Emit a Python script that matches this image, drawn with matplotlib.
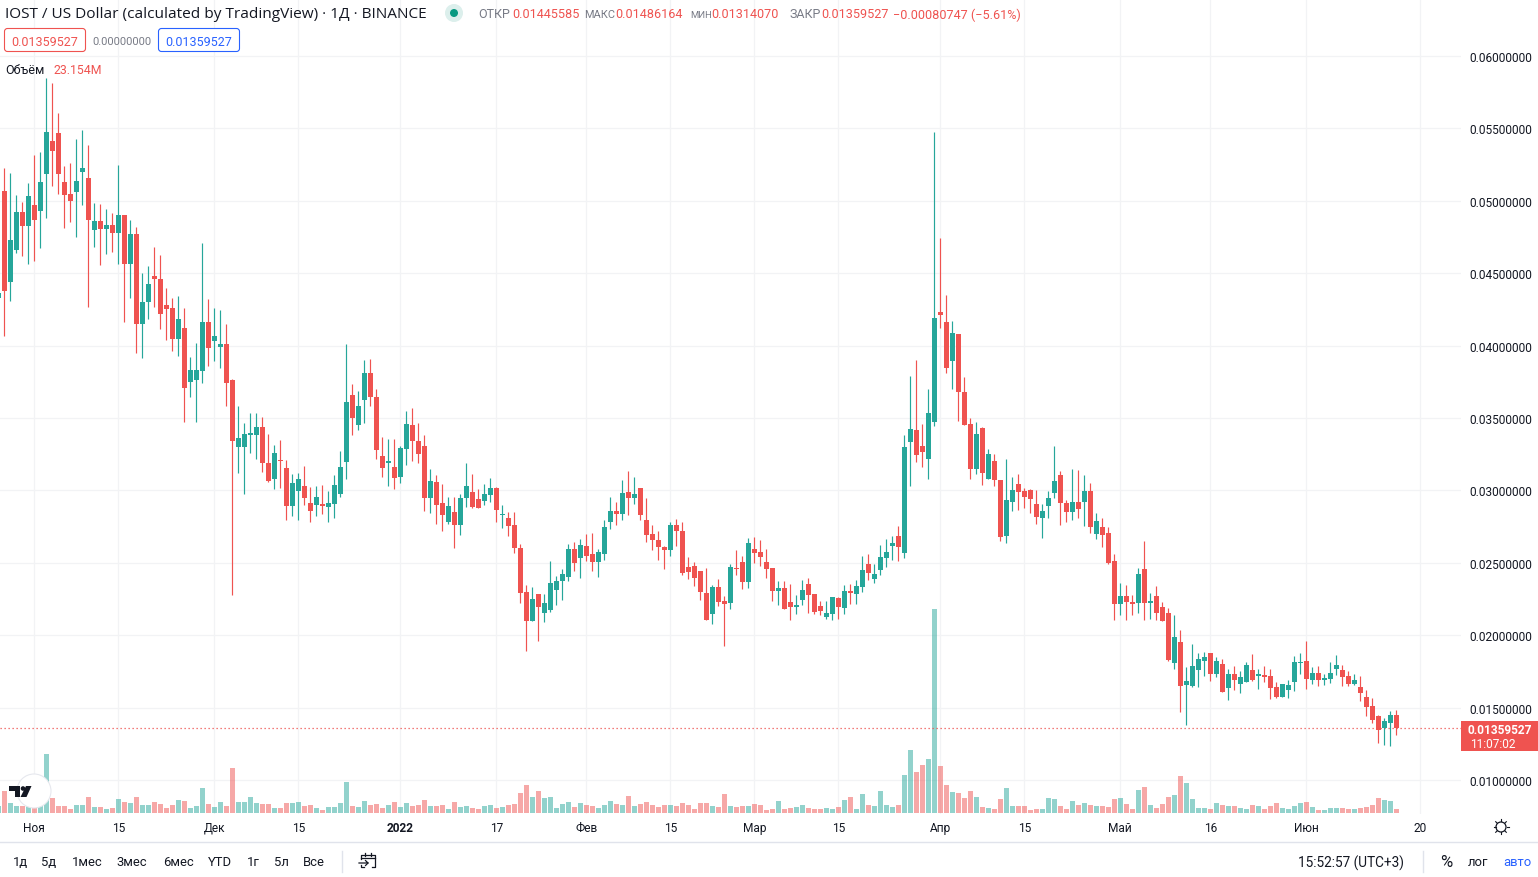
import numpy as np
import matplotlib
matplotlib.use("Agg")
import matplotlib.pyplot as plt
from matplotlib.patches import Circle, FancyBboxPatch, Polygon, Rectangle

plt.rcParams['font.family'] = ['Roboto', 'DejaVu Sans']

# Prices are in thousandths of a dollar, one row per ten candles.
# The first value of each list is the candle cut off by the left edge.
opens = [43.3,
    50.66, 44.39, 46.58, 49.21, 48.24, 49.69, 49.28, 51.84, 54.12, 54.68,
    51.29, 50.46, 50.59, 51.98, 51.56, 47.96, 48.59, 48.03, 48.31, 47.76,
    49.00, 45.61, 47.69, 41.46, 42.98, 44.78, 44.57, 42.77, 42.57, 40.49,
    41.25, 37.51, 37.65, 38.27, 41.60, 40.35, 39.93, 40.14, 37.62, 33.01,
    33.01, 33.83, 33.83, 34.38, 31.91, 30.81, 32.12, 31.57, 28.95, 29.98,
    30.33, 29.16, 29.02, 29.09, 28.88, 29.09, 29.78, 31.98, 36.58, 34.52,
    36.24, 38.10, 36.45, 32.39, 31.91, 31.63, 30.95, 32.87, 34.52, 33.42,
    33.08, 29.50, 30.60, 29.16, 27.85, 28.54, 27.58, 29.50, 29.92, 29.43,
    29.30, 29.71, 30.19, 28.33, 28.06, 27.58, 26.02, 22.99, 20.99, 22.85,
    21.54, 21.75, 23.13, 23.75, 24.02, 25.95, 25.33, 26.16, 25.61, 25.06,
    25.61, 27.82, 28.57, 28.37, 29.89, 29.47, 30.16, 27.95, 26.99, 26.57,
    26.09, 25.88, 27.61, 27.20, 24.71, 24.78, 24.44, 22.92, 21.47, 23.33,
    22.37, 22.23, 24.64, 25.06, 23.68, 25.95, 25.75, 25.06, 24.64, 23.06,
    23.26, 22.30, 21.95, 22.44, 23.54, 22.85, 22.02, 21.26, 21.47, 22.57,
    21.88, 23.06, 22.85, 23.33, 24.92, 23.88, 24.51, 25.33, 26.16, 26.85,
    25.71, 33.37, 34.19, 33.09, 32.19, 34.75, 42.33, 41.64, 38.95, 40.82,
    36.81, 34.61, 31.50, 34.33, 30.81, 32.06, 30.75, 26.88, 29.23, 30.47,
    29.99, 30.06, 29.09, 28.12, 28.95, 29.85, 31.09, 29.16, 28.54, 29.23,
    29.23, 29.99, 27.02, 27.50, 27.09, 25.14, 22.18, 22.73, 22.32, 22.25,
    24.59, 22.25, 22.73, 21.97, 21.56, 18.05, 19.56, 16.53, 16.47, 17.57,
    18.25, 18.74, 17.29, 17.98, 16.33, 17.29, 16.60, 16.74, 17.57, 17.15,
    17.22, 17.15, 16.40, 15.71, 16.19, 16.74, 18.05, 18.19, 16.88, 17.36,
    16.88, 16.95, 17.64, 17.57, 17.15, 16.60, 16.40, 15.71, 15.09, 14.40,
    13.57, 13.92, 14.45585]
closes = [43.6,
    43.76, 47.27, 49.21, 48.24, 50.32, 48.66, 51.29, 54.75, 53.43, 51.84,
    50.39, 49.97, 51.35, 52.25, 48.66, 48.59, 48.03, 48.31, 47.76, 49.00,
    45.61, 47.69, 41.46, 42.98, 44.23, 44.57, 42.15, 42.50, 40.49, 41.87,
    37.10, 38.34, 38.34, 41.60, 39.80, 40.63, 40.14, 37.44, 33.44, 33.63,
    33.90, 33.97, 34.38, 31.91, 30.67, 32.60, 32.05, 28.95, 30.53, 30.81,
    29.50, 28.61, 29.57, 28.95, 29.16, 30.40, 31.63, 36.10, 35.00, 35.83,
    38.10, 36.45, 32.80, 31.57, 32.05, 30.88, 32.94, 34.59, 33.42, 32.53,
    29.50, 30.67, 29.02, 28.33, 28.95, 27.58, 29.50, 30.33, 28.88, 28.81,
    29.78, 30.19, 28.68, 28.40, 27.51, 26.00, 22.92, 20.99, 22.51, 21.95,
    22.23, 23.61, 23.75, 24.23, 25.95, 24.99, 26.23, 25.47, 25.06, 25.75,
    27.47, 28.57, 28.37, 29.82, 29.47, 29.75, 28.30, 26.92, 26.57, 26.09,
    25.88, 27.61, 27.20, 24.30, 24.37, 23.95, 22.99, 21.06, 23.33, 22.30,
    22.16, 24.71, 24.57, 23.68, 26.37, 25.68, 25.40, 24.57, 23.06, 23.26,
    21.82, 21.95, 22.09, 23.13, 22.78, 21.61, 21.68, 21.54, 22.64, 21.95,
    23.06, 22.92, 23.40, 24.51, 24.30, 24.23, 25.40, 25.75, 26.37, 26.09,
    33.02, 34.26, 32.47, 32.68, 35.37, 41.92, 42.13, 38.47, 40.88, 36.81,
    34.54, 31.50, 33.92, 31.23, 32.54, 30.75, 26.81, 29.37, 30.06, 29.92,
    29.57, 29.44, 28.19, 28.61, 29.50, 30.68, 29.16, 28.54, 29.23, 28.75,
    29.99, 27.44, 27.92, 26.95, 25.02, 22.18, 22.73, 22.32, 22.18, 24.24,
    22.25, 22.38, 21.56, 21.01, 18.32, 19.91, 16.47, 16.81, 17.84, 18.39,
    18.46, 17.29, 18.25, 16.05, 17.29, 16.88, 17.08, 17.91, 16.88, 17.29,
    17.08, 16.33, 15.71, 16.60, 16.53, 18.12, 18.12, 16.95, 17.36, 16.88,
    17.02, 17.36, 17.91, 17.08, 16.60, 16.88, 15.98, 15.02, 14.13, 13.44,
    14.06, 14.47, 13.59527]
highs = [43.8,
    52.25, 51.91, 50.39, 49.90, 51.22, 53.15, 53.36, 58.46, 58.14, 56.06,
    52.39, 52.60, 54.26, 54.88, 53.85, 49.83, 49.76, 49.42, 49.14, 52.46,
    49.00, 48.66, 48.17, 44.99, 45.47, 46.79, 46.23, 43.95, 43.26, 43.40,
    42.63, 39.24, 40.21, 47.06, 43.19, 42.57, 42.43, 41.46, 37.66, 35.83,
    34.66, 35.35, 35.35, 35.07, 33.90, 33.15, 33.49, 32.12, 31.15, 31.22,
    31.70, 30.26, 30.33, 30.40, 29.98, 31.08, 32.73, 40.09, 37.34, 36.86,
    38.99, 39.06, 37.00, 33.70, 33.56, 33.56, 33.08, 35.48, 35.69, 34.66,
    33.83, 31.50, 31.08, 30.47, 29.57, 29.57, 29.78, 31.91, 31.15, 30.12,
    30.47, 30.88, 30.26, 29.02, 28.54, 28.54, 26.30, 23.47, 23.33, 22.85,
    22.85, 25.13, 24.09, 24.57, 26.30, 26.44, 26.64, 26.99, 27.06, 25.95,
    27.95, 29.54, 29.20, 30.71, 31.33, 30.92, 30.16, 29.47, 27.61, 27.20,
    26.16, 27.82, 28.02, 27.82, 25.40, 25.06, 24.44, 24.64, 23.47, 23.88,
    22.71, 24.92, 25.88, 25.47, 26.71, 26.78, 26.57, 25.95, 24.64, 23.75,
    23.75, 23.54, 22.78, 23.82, 23.95, 22.85, 22.37, 22.37, 22.64, 22.64,
    23.47, 23.54, 23.82, 25.47, 25.61, 24.92, 26.23, 26.64, 26.85, 27.54,
    33.85, 37.92, 39.02, 34.61, 37.02, 54.75, 47.44, 43.50, 41.71, 40.82,
    37.85, 35.02, 34.75, 34.40, 32.88, 32.54, 30.75, 32.19, 30.95, 31.16,
    30.19, 30.12, 30.06, 29.09, 29.99, 33.09, 31.37, 29.37, 31.50, 31.44,
    31.09, 30.54, 28.47, 28.06, 27.50, 25.62, 23.62, 23.49, 22.80, 24.65,
    26.51, 22.93, 23.42, 22.32, 21.90, 21.42, 20.39, 17.77, 19.36, 18.74,
    18.81, 18.74, 18.46, 18.39, 17.64, 17.84, 17.50, 18.12, 18.67, 17.64,
    17.84, 17.64, 16.74, 16.60, 16.88, 18.53, 18.74, 19.63, 17.77, 17.84,
    17.29, 18.12, 18.60, 17.91, 17.50, 17.29, 17.15, 16.19, 15.64, 14.47,
    14.26, 14.75, 14.86164]
lows = [43.0,
    40.65, 43.07, 46.37, 46.19, 45.61, 45.82, 46.72, 48.79, 51.01, 50.46,
    48.10, 48.52, 47.48, 49.69, 42.70, 46.79, 45.54, 46.30, 46.44, 45.61,
    41.60, 43.26, 39.52, 39.17, 41.87, 42.70, 41.18, 40.42, 39.66, 39.31,
    34.74, 36.47, 34.74, 37.44, 38.62, 38.97, 38.48, 35.85, 22.76, 31.22,
    29.78, 32.60, 32.19, 31.29, 30.60, 30.12, 30.19, 27.99, 28.26, 27.99,
    29.02, 27.85, 28.26, 28.40, 27.85, 28.06, 29.57, 30.81, 33.83, 34.18,
    34.66, 35.83, 32.19, 30.95, 30.33, 30.12, 30.53, 31.77, 32.05, 31.91,
    28.61, 28.47, 27.71, 27.23, 27.71, 26.00, 26.89, 28.88, 28.81, 28.81,
    29.02, 29.23, 27.85, 27.37, 26.82, 25.65, 22.23, 18.92, 20.99, 19.61,
    20.92, 21.61, 22.09, 22.44, 23.75, 24.44, 23.95, 25.13, 24.44, 24.02,
    25.20, 27.33, 27.61, 27.95, 28.30, 29.06, 27.95, 26.44, 25.88, 25.20,
    24.57, 25.47, 26.16, 24.16, 23.88, 23.40, 22.44, 21.06, 20.78, 22.02,
    19.26, 21.82, 24.16, 23.20, 23.26, 24.99, 24.78, 23.95, 22.37, 22.09,
    21.82, 21.06, 21.47, 22.09, 21.54, 21.47, 21.40, 21.13, 21.06, 21.13,
    21.47, 22.16, 22.16, 22.99, 23.82, 23.61, 24.16, 24.71, 25.20, 25.13,
    25.30, 30.33, 31.99, 31.64, 30.81, 34.47, 41.23, 38.13, 37.02, 34.81,
    34.54, 30.81, 31.16, 30.40, 30.81, 30.33, 26.54, 26.40, 28.61, 28.68,
    28.81, 28.47, 27.71, 26.68, 28.06, 29.50, 27.64, 27.85, 27.99, 28.12,
    27.57, 27.09, 26.61, 26.12, 24.95, 21.08, 21.42, 21.08, 21.42, 21.56,
    21.08, 21.15, 21.08, 21.01, 18.25, 17.64, 14.68, 13.78, 16.40, 16.40,
    17.15, 16.81, 17.08, 16.05, 15.50, 16.19, 15.98, 16.74, 16.81, 16.26,
    16.74, 15.57, 15.64, 15.71, 15.64, 16.12, 17.29, 16.26, 16.60, 16.47,
    16.53, 16.67, 17.22, 16.47, 16.47, 16.53, 15.43, 14.40, 13.92, 12.54,
    12.40, 12.34, 13.14070]
# volume in millions
volumes = [44,
    139, 63, 44, 44, 69, 69, 69, 372, 95, 44,
    44, 25, 50, 50, 101, 38, 38, 25, 32, 88,
    69, 63, 101, 50, 50, 69, 57, 32, 50, 82,
    76, 32, 44, 158, 57, 38, 69, 44, 284, 69,
    69, 101, 63, 57, 57, 32, 32, 63, 63, 69,
    44, 50, 32, 19, 38, 38, 63, 195, 44, 38,
    76, 50, 57, 32, 50, 69, 38, 63, 44, 50,
    82, 44, 44, 50, 25, 69, 38, 44, 32, 25,
    44, 50, 32, 38, 50, 57, 126, 176, 101, 139,
    95, 101, 32, 57, 69, 38, 63, 50, 44, 32,
    50, 76, 57, 50, 107, 44, 57, 69, 50, 38,
    50, 50, 44, 63, 50, 25, 63, 63, 44, 38,
    120, 44, 38, 44, 44, 57, 50, 19, 25, 76,
    25, 32, 38, 50, 32, 25, 25, 32, 25, 38,
    82, 101, 25, 120, 50, 44, 139, 50, 38, 50,
    239, 397, 258, 302, 340, 1285, 296, 176, 132, 126,
    95, 139, 101, 38, 32, 25, 88, 160, 43, 43,
    43, 17, 24, 24, 95, 89, 43, 24, 76, 50,
    63, 50, 43, 43, 37, 89, 95, 56, 24, 147,
    166, 50, 30, 56, 102, 114, 231, 186, 89, 30,
    30, 24, 63, 50, 43, 43, 30, 24, 50, 43,
    24, 43, 63, 30, 24, 43, 63, 69, 37, 17,
    17, 30, 30, 30, 24, 24, 30, 37, 50, 95,
    82, 76, 23.154]

price_ticks = [0.06, 0.055, 0.05, 0.045, 0.04, 0.035, 0.03, 0.025, 0.02, 0.015, 0.01]
# candle index of each date label, counted from the first whole candle
date_idx = [5, 19, 35, 49, 66, 82, 97, 111, 125, 139, 156, 170, 186, 201, 217, 236]
date_labels = ['Ноя', '15', 'Дек', '15', '2022', '17', 'Фев', '15', 'Мар', '15',
               'Апр', '15', 'Май', '16', 'Июн', '20']
last_close = 0.01359527
range_buttons = [('1д', 20), ('5д', 49), ('1мес', 87), ('3мес', 132), ('6мес', 178),
                 ('YTD', 220), ('1г', 253), ('5л', 281), ('Все', 314)]

GREEN = '#26a69a'
RED = '#ef5350'
TEXT = '#131722'
GREY = '#787b86'
BLUE = '#2962ff'
GRID = '#f2f3f5'
W, H = 1538, 878
PANE_W, PANE_B = 1461, 815

o = np.array(opens) / 1000
c = np.array(closes) / 1000
hi = np.array(highs) / 1000
lo = np.array(lows) / 1000
vol = np.array(volumes)
xs = np.arange(len(o)) - 1
colors = [GREEN if c[i] >= o[i] else RED for i in range(len(o))]

fig = plt.figure(figsize=(W / 100, H / 100), dpi=100, facecolor='white')

# back axes: ticks and grid only
ax = fig.add_axes([0, 1 - PANE_B / H, PANE_W / W, PANE_B / H])
# one candle is 6 px wide, the first whole one sits at x=4.33 px
ax.set_xlim(-4.33 / 6, (PANE_W - 4.33) / 6)
# 0.06 is at y=57 and 0.01 at y=781
per_px = 0.05 / 724
ax.set_ylim(0.06 - (PANE_B - 57) * per_px, 0.06 + 57 * per_px)
for s in ax.spines.values():
    s.set_visible(False)
ax.yaxis.tick_right()
ax.set_yticks(price_ticks)
ax.set_yticklabels(['%.8f' % p for p in price_ticks], va='center_baseline')
ax.set_xticks(date_idx)
ax.set_xticklabels(date_labels)
ax.get_xticklabels()[4].set_fontweight('bold')
ax.tick_params(axis='y', length=0, pad=6.3, labelsize=8.6, labelcolor=TEXT)
ax.tick_params(axis='x', length=0, pad=5.0, labelsize=8.6, labelcolor=TEXT)
ax.grid(True, color=GRID, lw=0.9)
ax.set_axisbelow(True)
ax.set_zorder(0)

# volume pane shares the same x, bars stand on y=814
vax = fig.add_axes([0, 1 - 814 / H, PANE_W / W, 814 / H], sharex=ax)
vax.set_ylim(0, 814 * 6.3)
vax.axis('off')
vax.bar(xs, vol, width=0.83, color=colors, alpha=0.5, linewidth=0)
vax.set_zorder(1)

# candles on top of the volume
cax = fig.add_axes(ax.get_position(), sharex=ax, sharey=ax)
cax.axis('off')
cax.set_zorder(2)
cax.axhline(last_close, color=RED, lw=0.9, ls=(0, (1, 2.2)), zorder=2)
cax.vlines(xs, lo, hi, colors=colors, lw=0.85, zorder=3)
cax.bar(xs, np.abs(c - o), bottom=np.minimum(o, c), width=0.83, color=colors, linewidth=0, zorder=4)

# everything around the chart is placed in pixels of the screenshot
ui = fig.add_axes([0, 0, 1, 1])
ui.set_xlim(0, W)
ui.set_ylim(H, 0)
ui.axis('off')
ui.set_zorder(5)


def label(x, y, s, color=TEXT, size=9.0, ha='left', **kw):
    ui.text(x, y, s, color=color, fontsize=size, ha=ha, va='center', **kw)


# header
label(5, 14.5, 'IOST / US Dollar (calculated by TradingView) · 1Д · BINANCE', size=11.1,
      family=['Open Sans', 'DejaVu Sans'])
ui.add_patch(Circle((454, 14), 9, color='#dcefec', lw=0))
ui.add_patch(Circle((454, 14), 4, color='#089981', lw=0))
for x, name, sz in [(478, 'ОТКР', 9.0), (584, 'МАКС', 7.9), (690, 'МИН', 6.8), (790, 'ЗАКР', 9.0)]:
    label(x, 15, name, color=GREY, size=sz)
for x, val in [(512, '0.01445585'), (615, '0.01486164'), (711, '0.01314070'), (821, '0.01359527')]:
    label(x, 15, val, color=RED, size=9.1)
label(893, 15, '−0.00080747 (−5.61%)', color=RED, size=9.1)

# bid / spread / ask boxes
for x0, col in [(4.5, RED), (158.5, BLUE)]:
    ui.add_patch(FancyBboxPatch((x0 + 3, 32.5), 75, 17, boxstyle='round,pad=3', fc='white', ec=col, lw=0.8))
    label(x0 + 40.5, 42, '0.01359527', color=col, size=9.0, ha='center')
label(122, 42, '0.00000000', color=GREY, size=8.0, ha='center')

label(5, 70, 'Объём', size=9.0)
label(53, 70, '23.154M', color=RED, size=8.8)

# TradingView badge
ui.add_patch(Circle((34, 792), 17, fc='white', ec='#e6e8ee', lw=0.8))
ui.add_patch(Polygon([(9, 787), (20, 787), (20, 798), (14.5, 798), (14.5, 792.5), (9, 792.5)], color='#131722', lw=0))
ui.add_patch(Circle((23, 789.5), 2.3, color='#131722', lw=0))
ui.add_patch(Polygon([(26, 787), (31.5, 787), (26.5, 798), (20.5, 798)], color='#131722', lw=0))

# last price tag
ui.add_patch(Rectangle((1461, 722), 77, 30, color=RED, lw=0))
label(1500, 731, '0.01359527', color='white', size=8.6, ha='center', fontweight='bold')
label(1493, 745, '11:07:02', color='white', size=8.6, ha='center')

# settings icon next to the time scale
ui.add_patch(Circle((1501, 828), 5, fc='white', ec=TEXT, lw=0.9))
for a in np.arange(0, 2 * np.pi, np.pi / 4):
    ui.plot([1501 + 5.5 * np.cos(a), 1501 + 7.5 * np.cos(a)],
            [828 + 5.5 * np.sin(a), 828 + 7.5 * np.sin(a)], color=TEXT, lw=0.8)

# bottom toolbar
ui.plot([0, W], [843, 843], color='#e0e3eb', lw=1.0)
for s, x in range_buttons:
    label(x, 863, s, size=9.4, ha='center')
ui.plot([342, 342], [852, 873], color='#e0e3eb', lw=1.0)
ui.plot([1423, 1423], [852, 873], color='#e0e3eb', lw=1.0)

# calendar icon
ui.plot([361, 361, 375, 375, 372], [860, 856, 856, 868, 868], color=TEXT, lw=0.9)
ui.plot([361, 375], [859, 859], color=TEXT, lw=0.9)
ui.plot([365, 365], [854, 857], color=TEXT, lw=0.9)
ui.plot([371, 371], [854, 857], color=TEXT, lw=0.9)
ui.plot([359, 368, 365.5], [864, 864, 861.5], color=TEXT, lw=0.9)
ui.plot([368, 365.5], [864, 866.5], color=TEXT, lw=0.9)
ui.plot([361, 361, 364], [866, 868, 868], color=TEXT, lw=0.9)

label(1298, 863, '15:52:57 (UTC+3)', size=9.8)
label(1446, 862.5, '%', size=12, ha='center')
label(1478, 863, 'лог', size=9.4, ha='center')
label(1517, 863, 'авто', color=BLUE, size=9.4, ha='center')

fig.savefig('out.png', dpi=100)
